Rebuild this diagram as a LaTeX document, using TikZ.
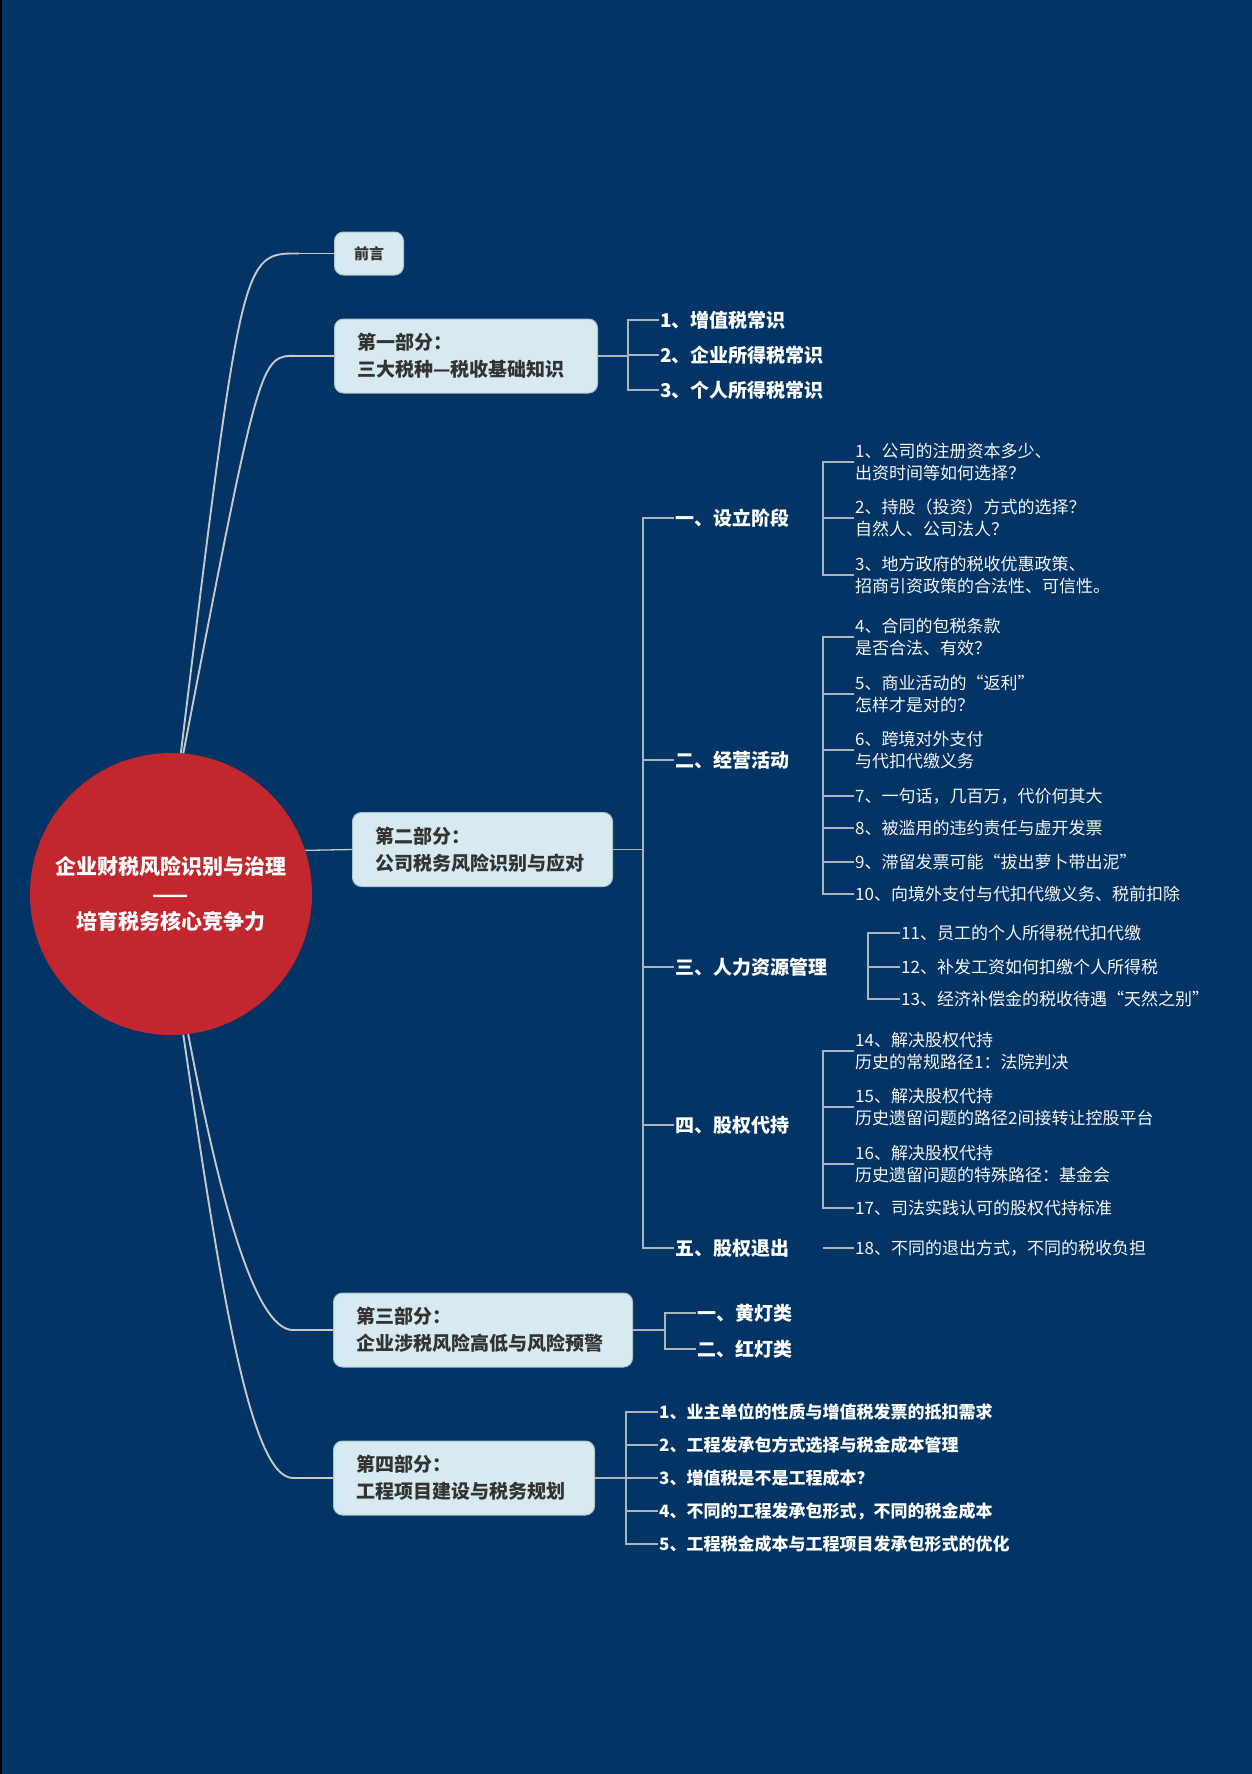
\documentclass[tikz,border=0pt]{standalone}
\usepackage{fontspec}
\setmainfont{Noto Sans CJK SC}
\usetikzlibrary{calc}
\definecolor{bgc}{RGB}{2,52,102}
\definecolor{redc}{RGB}{193,39,45}
\definecolor{boxfill}{RGB}{214,234,240}
\definecolor{boxline}{RGB}{176,196,204}
\definecolor{boxtext}{RGB}{51,51,51}
\definecolor{curvec}{RGB}{200,200,200}
\definecolor{brc}{RGB}{172,180,190}
\definecolor{leaftext}{RGB}{245,245,245}
\begin{document}
\begin{tikzpicture}[x=1pt,y=-1pt,
  box/.style={draw=boxline, line width=1pt, fill=boxfill, rounded corners=9pt, text=boxtext,
    font=\bfseries\fontsize{19}{27}\selectfont, align=left, inner xsep=23pt, inner ysep=0pt,
    minimum height=74pt, anchor=west},
  sec/.style={font=\bfseries\fontsize{19}{24}\selectfont, text=white, inner xsep=1pt, inner ysep=0pt, anchor=west},
  subb/.style={font=\bfseries\fontsize{17}{22}\selectfont, text=white, inner xsep=1pt, inner ysep=0pt, anchor=west},
  leaf/.style={font=\fontsize{17}{22.5}\selectfont, text=leaftext, align=left, inner xsep=1pt, inner ysep=0pt, anchor=west},
  curve/.style={draw=curvec, line width=1.9pt},
  thin/.style={draw=curvec, line width=1.3pt},
  br/.style={draw=brc, line width=1.3pt}]
\useasboundingbox (0,0) rectangle (1252,1774);
\fill[bgc] (0,0) rectangle (1252,1774);
\fill[black] (0,0) rectangle (2,1774);

% central topic
\node[circle, fill=redc, minimum size=282pt, inner sep=0pt, text=white, align=center,
  font=\bfseries\fontsize{21}{27.5}\selectfont] (c) at (171,894)
  {企业财税风险识别与治理\\——\\培育税务核心竞争力};

% main boxes
\node[box, font=\bfseries\fontsize{15}{18}\selectfont, inner xsep=0pt, minimum width=69pt,
  minimum height=43pt, align=center] (b0) at (334,253.5) {前言};
\node[box, text width=217pt] (b1) at (334,356) {第一部分：\\三大税种—税收基础知识};
\node[box, text width=214pt] (b2) at (352,849.5) {第二部分：\\公司税务风险识别与应对};
\node[box, text width=253pt] (b3) at (333,1330) {第三部分：\\企业涉税风险高低与风险预警};
\node[box, text width=215pt] (b4) at (333,1478) {第四部分：\\工程项目建设与税务规划};

% part 1 items
\node[sec] (p1) at (659,320) {1、增值税常识};
\node[sec] (p2) at (659,355) {2、企业所得税常识};
\node[sec] (p3) at (659,390) {3、个人所得税常识};

% part 2 sections
\node[sec] (s1) at (674,518) {一、设立阶段};
\node[sec] (s2) at (674,760) {二、经营活动};
\node[sec] (s3) at (674,967) {三、人力资源管理};
\node[sec] (s4) at (674,1125) {四、股权代持};
\node[sec] (s5) at (674,1248) {五、股权退出};

% leaves
\node[leaf] (l1) at (854,462) {1、公司的注册资本多少、\\出资时间等如何选择？};
\node[leaf] (l2) at (854,518) {2、持股（投资）方式的选择？\\自然人、公司法人？};
\node[leaf] (l3) at (854,575) {3、地方政府的税收优惠政策、\\招商引资政策的合法性、可信性。};
\node[leaf] (l4) at (854,637) {4、合同的包税条款\\是否合法、有效？};
\node[leaf] (l5) at (854,694) {5、商业活动的“返利”\\怎样才是对的？};
\node[leaf] (l6) at (854,750) {6、跨境对外支付\\与代扣代缴义务};
\node[leaf] (l7) at (854,796) {7、一句话，几百万，代价何其大};
\node[leaf] (l8) at (854,828) {8、被滥用的违约责任与虚开发票};
\node[leaf] (l9) at (854,862) {9、滞留发票可能“拔出萝卜带出泥”};
\node[leaf] (l10) at (854,894) {10、向境外支付与代扣代缴义务、税前扣除};
\node[leaf] (l11) at (900,933) {11、员工的个人所得税代扣代缴};
\node[leaf] (l12) at (900,967) {12、补发工资如何扣缴个人所得税};
\node[leaf] (l13) at (900,999) {13、经济补偿金的税收待遇“天然之别”};
\node[leaf] (l14) at (854,1051) {14、解决股权代持\\历史的常规路径1：法院判决};
\node[leaf] (l15) at (854,1107) {15、解决股权代持\\历史遗留问题的路径2间接转让控股平台};
\node[leaf] (l16) at (854,1164) {16、解决股权代持\\历史遗留问题的特殊路径：基金会};
\node[leaf] (l17) at (854,1208) {17、司法实践认可的股权代持标准};
\node[leaf] (l18) at (854,1248) {18、不同的退出方式，不同的税收负担};

% part 3 items
\node[sec] (q1) at (696,1313) {一、黄灯类};
\node[sec] (q2) at (696,1349) {二、红灯类};

% part 4 items
\node[subb] (r1) at (658,1412) {1、业主单位的性质与增值税发票的抵扣需求};
\node[subb] (r2) at (658,1445) {2、工程发承包方式选择与税金成本管理};
\node[subb] (r3) at (658,1478) {3、增值税是不是工程成本？};
\node[subb] (r4) at (658,1511) {4、不同的工程发承包形式，不同的税金成本};
\node[subb] (r5) at (658,1544) {5、工程税金成本与工程项目发承包形式的优化};

% curves from central topic
\draw[curve] (c.86) .. controls (242,253) .. ([xshift=-35pt]b0.west);
\draw[thin] ([xshift=-35pt]b0.west) -- (b0.west);
\draw[curve] (c.85) .. controls (260,355) .. ([xshift=-37pt]b1.west);
\draw[thin] ([xshift=-37pt]b1.west) -- (b1.west);
\draw[thin] (c.18.6) -- (b2.west);
\draw[curve] (c.-83) .. controls (217,1185) and (253,1330) .. ([xshift=-40pt]b3.west);
\draw[thin] ([xshift=-40pt]b3.west) -- (b3.west);
\draw[curve] (c.-85) .. controls (220,1285) and (250,1478) .. ([xshift=-40pt]b4.west);
\draw[thin] ([xshift=-40pt]b4.west) -- (b4.west);

% part 1 bracket
\coordinate (j1) at ([xshift=30pt]b1.east);
\draw[br] (b1.east) -- (j1);
\foreach \n in {p1,p2,p3} \draw[br] (j1) |- (\n.west);

% part 2 bus
\coordinate (j2) at ([xshift=30pt]b2.east);
\draw[br] (b2.east) -- (j2);
\foreach \n in {s1,s2,s3,s4,s5} \draw[br] (j2) |- (\n.west);

\coordinate (k1) at ([xshift=149pt]s1.west);
\foreach \n in {l1,l2,l3} \draw[br] (k1) |- (\n.west);
\coordinate (k2) at ([xshift=149pt]s2.west);
\foreach \n in {l4,l5,l6,l7,l8,l9,l10} \draw[br] (k2) |- (\n.west);
\coordinate (k3) at ([xshift=194pt]s3.west);
\foreach \n in {l11,l12,l13} \draw[br] (k3) |- (\n.west);
\coordinate (k4) at ([xshift=149pt]s4.west);
\foreach \n in {l14,l15,l16,l17} \draw[br] (k4) |- (\n.west);
\coordinate (k5) at ([xshift=149pt]s5.west);
\draw[br] (k5) -- (l18.west);

% part 3 bracket
\coordinate (j3) at ([xshift=32pt]b3.east);
\draw[br] (b3.east) -- (j3);
\foreach \n in {q1,q2} \draw[br] (j3) |- (\n.west);

% part 4 bracket
\coordinate (j4) at ([xshift=31pt]b4.east);
\draw[br] (b4.east) -- (j4);
\foreach \n in {r1,r2,r3,r4,r5} \draw[br] (j4) |- (\n.west);
\end{tikzpicture}
\end{document}
